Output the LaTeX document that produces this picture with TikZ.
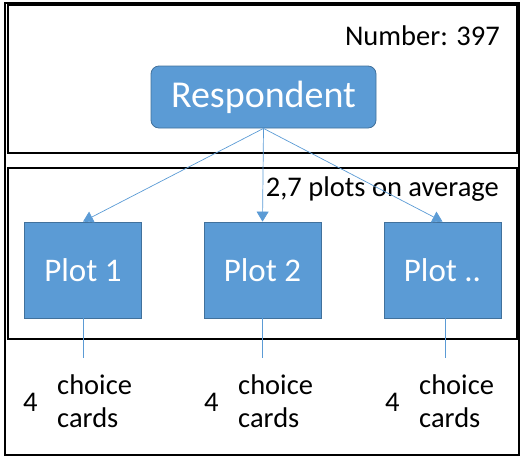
\documentclass[tikz,border=0pt]{standalone}
\usepackage{fontspec}
\setmainfont{Carlito}
\usetikzlibrary{arrows.meta}
\definecolor{boxfill}{HTML}{5B9BD5}
\definecolor{boxedge}{HTML}{41719C}
\begin{document}
\begin{tikzpicture}[x=1pt,y=-1pt,
  frame/.style={draw=black,line width=1.3pt},
  bluebox/.style={fill=boxfill,draw=boxedge,line width=0.8pt,text=white,inner sep=0pt},
  link/.style={draw=boxfill,line width=0.7pt},
  arrowlink/.style={link,-{Triangle[length=10pt,width=12pt]}},
  label/.style={inner sep=0pt,text=black,font=\fontsize{28.5}{30}\selectfont},
  cardtext/.style={inner sep=0pt,anchor=west,font=\fontsize{28.5}{30}\selectfont}]
\useasboundingbox (0,0) rectangle (521,456);
% outer frame and the two section frames
\draw[frame] (5,3) rectangle (519,455);
\draw[frame] (8,5) rectangle (517,153);
\draw[frame] (8,168) rectangle (517,339);
% captions
\node[label,anchor=east] (num) at (500,36) {Number: 397};
\node[label,anchor=east] (avg) at (499,189) {2,7 plots on average};
% respondent
\node[bluebox,rounded corners=8pt,minimum width=225pt,minimum height=62pt,
  font=\fontsize{38}{40}\selectfont] (resp) at (263.5,97) {Respondent};
% plots
\foreach \n/\x/\t in {p1/83/Plot 1,p2/262.5/Plot 2,p3/442.5/Plot ..}{
  \node[bluebox,minimum width=117pt,minimum height=96pt,
    font=\fontsize{33}{36}\selectfont] (\n) at (\x,270) {\t};
}
% connectors
\draw[arrowlink] (resp.south) -- (p1.north);
\draw[arrowlink] (resp.south) -- (p2.north);
\draw[arrowlink] (resp.south) -- (p3.north);
\coordinate (p1end) at (83,358);
\coordinate (p2end) at (262.5,358);
\coordinate (p3end) at (445,358);
\draw[link] (p1.south) -- (p1end);
\draw[link] (p2.south) -- (p2end);
\draw[link] (p3.south -| p3end) -- (p3end);
% choice-card counts
\foreach \n/\x in {c1/23,c2/204,c3/385}{
  \node[cardtext] (\n num) at (\x,402) {4};
  \node[cardtext] (\n top) at (\x+34,385) {choice};
  \node[cardtext] (\n bot) at (\x+34,418) {cards};
}
\end{tikzpicture}
\end{document}
